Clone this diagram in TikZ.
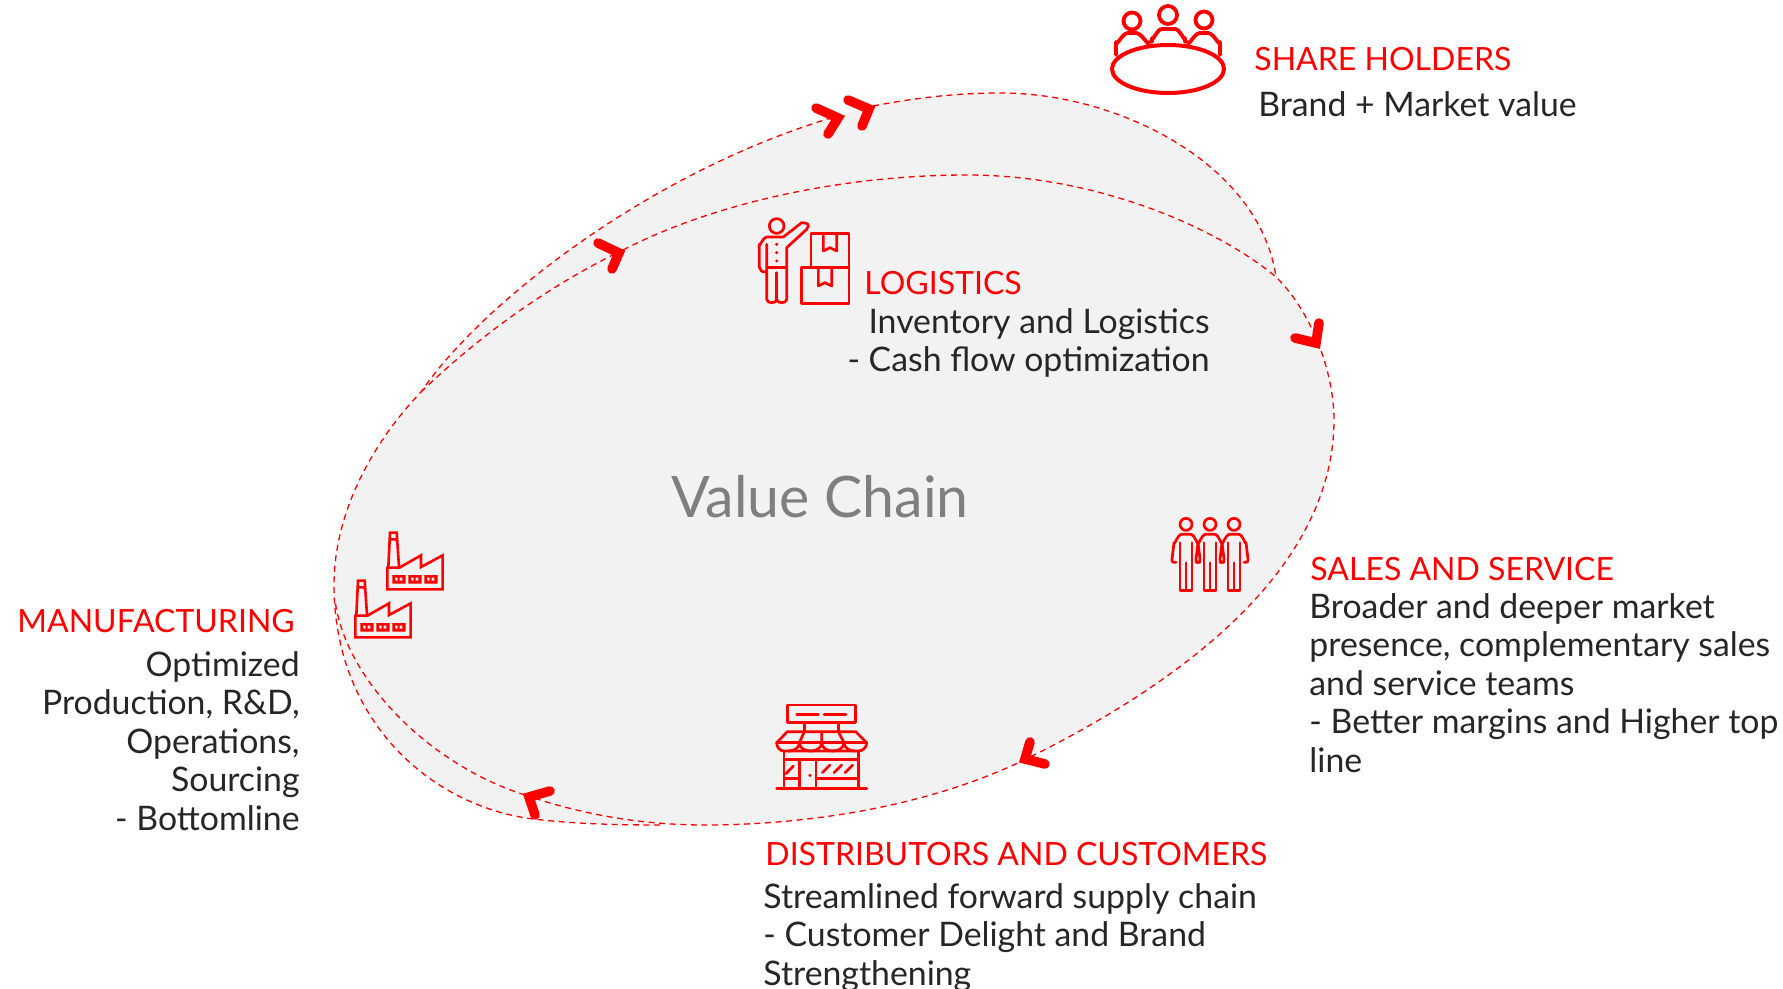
\documentclass[tikz,border=0pt]{standalone}
\usepackage{fontspec}
\setmainfont{Lato}
\definecolor{vred}{HTML}{FF0000}
\definecolor{blob}{HTML}{F2F2F2}
\definecolor{bodyc}{HTML}{262626}
\definecolor{vgray}{HTML}{7F7F7F}
\tikzset{
 flow/.style={vred,line width=0.65pt,dash pattern=on 3pt off 2.3pt},
 chev/.style={vred,line width=4.8pt,line cap=round,line join=miter,miter limit=10},
 ico/.style={vred,line width=1.35pt,line cap=round,line join=round},
 title/.style={anchor=base west,inner sep=0pt,text=vred,font=\fontsize{16}{19}\selectfont},
 body/.style={anchor=base west,inner sep=0pt,text=bodyc,font=\fontsize{16.9}{19.2}\selectfont,align=left},
 bodyr/.style={anchor=base east,inner sep=0pt,text=bodyc,font=\fontsize{16.9}{19.2}\selectfont,align=right}
}
\begin{document}
\begin{tikzpicture}[x=0.5pt,y=-0.5pt]
\useasboundingbox (0,0) rectangle (1783,989);
% blob
\fill[blob] (334,585) .. controls (334,510) and (375,440) .. (421,392)
 .. controls (480,305) and (650,170) .. (841,115)
 -- (873,106) .. controls (920,97) and (960,93) .. (1001,93)
 .. controls (1120,93) and (1260,165) .. (1276,277)
 .. controls (1310,310) and (1334,370) .. (1334,420)
 .. controls (1334,530) and (1250,650) .. (1020,762)
 .. controls (920,809) and (800,825) .. (705,825)
 .. controls (650,825) and (590,824) .. (533,819)
 .. controls (430,806) and (334,720) .. (334,585) -- cycle;
% curves
\draw[flow] (660,825) .. controls (620,825) and (575,824) .. (533,819)
 .. controls (430,806) and (334,720) .. (334,585)
 .. controls (334,510) and (375,440) .. (421,392)
 .. controls (480,305) and (650,170) .. (841,115);
\draw[flow] (525,795) .. controls (430,765) and (345,680) .. (335,600);
\draw[flow] (421,392) .. controls (480,335) and (550,285) .. (623,250);
\draw[flow] (623,250) .. controls (720,200) and (850,175) .. (967,175)
 .. controls (1100,175) and (1220,230) .. (1276,277)
 .. controls (1310,310) and (1334,370) .. (1334,420)
 .. controls (1334,530) and (1250,650) .. (1020,762)
 .. controls (920,809) and (800,825) .. (705,825)
 .. controls (640,825) and (580,814) .. (525,795);
\draw[flow] (873,106) .. controls (920,97) and (960,93) .. (1001,93)
 .. controls (1120,93) and (1260,165) .. (1276,277);
% chevrons
\draw[chev] (598,243) -- (619,253) -- (612,269);
\draw[chev] (816,108) -- (838,118) -- (828,134);
\draw[chev] (848,100) -- (869,109) -- (862,126);
\draw[chev] (1295,338) -- (1316,343) -- (1319,323);
\draw[chev] (1045,764) -- (1025,759) -- (1030,742);
\draw[chev] (550,791) -- (529,797) -- (535,815);
% shareholders icon
\begin{scope}[vred,line width=2pt,line cap=round,line join=round]
\draw (1168,69) ellipse [x radius=56,y radius=24];
\draw[line width=1.9pt] (1132,21) circle (8.5) (1168,15) circle (9) (1204,20) circle (8.5);
\draw[line width=1.9pt] (1116,55) -- (1116,42) to[out=-90,in=180] (1128,33) -- (1136,33) to[out=0,in=-90] (1149,42);
\draw[line width=1.9pt] (1152,42) -- (1152,38) to[out=-90,in=180] (1162,29) -- (1175,29) to[out=0,in=-90] (1185,38) -- (1185,42);
\draw[line width=1.9pt] (1188,42) to[out=-90,in=180] (1200,33) -- (1208,33) to[out=0,in=-90] (1220,42) -- (1220,55);
\end{scope}
% logistics icon
\begin{scope}[shift={(740,201)},x=0.1667pt,y=-0.1667pt,ico]
\draw (110,75) circle (22);
\draw (80,212) -- (68,212) to[out=180,in=90] (58,200) -- (58,130) to[out=-90,in=180] (80,108) -- (130,108) -- (185,65) to[out=0,in=90] (205,75) to[out=-90,in=45] (200,85) -- (140,140) -- (140,295) to[out=-90,in=0] (125,305) to[out=180,in=-90] (110,295) to[out=-90,in=0] (95,305) to[out=180,in=-90] (80,295) -- (80,130);
\draw (80,200) -- (140,200) (110,215) -- (110,295);
\fill[vred] (110,130) circle (5) (110,155) circle (5) (110,180) circle (5);
\draw (213,200) -- (213,98) -- (327,98) -- (327,307) -- (185,307) -- (185,200) -- (327,200);
\draw (250,98) -- (250,150) -- (270,140) -- (290,150) -- (290,98);
\draw (235,200) -- (235,255) -- (255,245) -- (275,255) -- (275,200);
\end{scope}
% factories
\foreach \ox/\oy in {340/511,308/559}{
\begin{scope}[shift={(\ox,\oy)},x=0.1667pt,y=-0.1667pt,vred,line width=1.3pt,line join=miter]
\draw (142,235) -- (142,170) -- (178,170) -- (243,133) -- (243,168) -- (308,133) -- (308,235) -- cycle;
\draw (145,168) -- (150,65) -- (170,65) -- (177,168) (148,85) -- (172,85);
\foreach \wx in {157,205,253}{
\fill[even odd rule] (\wx,192) rectangle ++(40,26) (\wx+8,200) rectangle ++(8,9) (\wx+22,200) rectangle ++(8,9);
}
\end{scope}}
% store
\begin{scope}[shift={(760,691)},x=0.1667pt,y=-0.1667pt,ico]
\draw (82,42) rectangle (287,95);
\draw (110,70) -- (175,70) (192,70) -- (258,70);
\draw (133,95) -- (133,122) (235,95) -- (235,122);
\draw (82,122) -- (287,122) -- (320,155) to[out=-90,in=0] (295,180) -- (72,180) to[out=180,in=-90] (50,155) -- cycle;
\draw (50,155) -- (320,155);
\draw (133,122) -- (118,155) (185,122) -- (185,155) (235,122) -- (252,155);
\draw (118,155) to[out=-90,in=0] (85,180) (118,155) to[out=-90,in=180] (152,180) (185,155) to[out=-90,in=0] (152,180) (185,155) to[out=-90,in=180] (218,180) (252,155) to[out=-90,in=0] (218,180) (252,155) to[out=-90,in=180] (285,180);
\draw (72,180) -- (72,293) (295,180) -- (295,293) (50,293) -- (320,293);
\draw (72,205) -- (295,205) (118,205) -- (118,293) (168,205) -- (168,293) (168,262) -- (295,262) (72,262) -- (118,262);
\fill[vred] (150,253) circle (5);
\draw (78,248) -- (100,225) (187,245) -- (210,222) (222,245) -- (245,222) (255,245) -- (278,222);
\end{scope}
% sales
\foreach \ox in {0,24,48}{
\begin{scope}[shift={(1160+\ox,501)},x=0.1667pt,y=-0.1667pt,ico]
\draw (78,70) circle (18);
\draw (48,184) -- (40,184) to[out=180,in=-90] (36,175) -- (42,125) to[out=-90,in=180] (65,100) -- (92,100) to[out=0,in=-90] (114,125) -- (120,175) to[out=-90,in=0] (115,184) -- (108,184);
\draw (60,125) -- (60,268) -- (96,268) -- (96,125) (78,185) -- (78,268);
\end{scope}}
% texts
\node[title] (sht) at (1254,71) {SHARE HOLDERS};
\node[body] (shb) at (1258,117) {Brand + Market value};
\node[title] (lot) at (864,295) {LOGISTICS};
\node[bodyr] (lob) at (1210,372) {Inventory and Logistics\\- Cash flow optimization};
\node[anchor=base west,inner sep=0pt,text=vgray,font=\fontsize{28.6}{32}\selectfont] (vc) at (671,517) {Value Chain};
\node[title] (sat) at (1310,580) {SALES AND SERVICE};
\node[body] (sab) at (1309,772) {Broader and deeper market\\presence, complementary sales\\and service teams\\- Better margins and Higher top\\line};
\node[title] (mat) at (17,632) {MANUFACTURING};
\node[bodyr] (mab) at (300,830) {Optimized\\Production, R\&D,\\Operations,\\Sourcing\\- Bottomline};
\node[title] (dit) at (765,865) {DISTRIBUTORS AND CUSTOMERS};
\node[body] (dib) at (763,985) {Streamlined forward supply chain\\- Customer Delight and Brand\\Strengthening};
\end{tikzpicture}
\end{document}
